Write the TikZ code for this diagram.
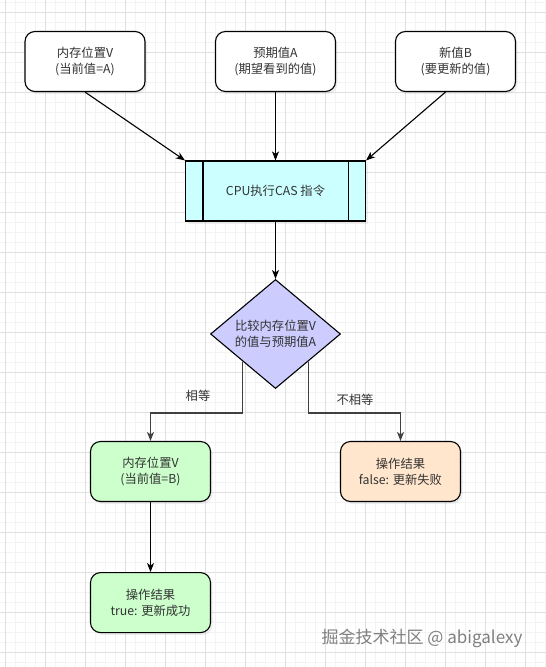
\documentclass[tikz,border=0pt]{standalone}
\usepackage{fontspec}
\setmainfont{Noto Sans CJK SC}
\usepackage{tikz}
\usetikzlibrary{shapes.geometric,arrows.meta,positioning,calc,shadows}
\usepackage{xcolor}
\definecolor{txtgray}{HTML}{333333}
\definecolor{cyanfill}{HTML}{CCFFFF}
\definecolor{violetfill}{HTML}{CCCCFF}
\definecolor{greenfill}{HTML}{CCFFCC}
\definecolor{orangefill}{HTML}{FFE6CC}
\definecolor{gridminor}{HTML}{F3F3F3}
\definecolor{gridmajor}{HTML}{E0E0E0}

\begin{document}
\begin{tikzpicture}[
    x=1pt, y=-1pt,
    box/.style={rectangle, draw=black, fill=white, text=txtgray, align=center, rounded corners=10pt, minimum width=120pt, minimum height=60pt, line width=1.1pt, font=\fontsize{12.3pt}{16.3pt}\selectfont, drop shadow={shadow xshift=2pt, shadow yshift=-2.5pt, opacity=0.12}},
    procbox/.style={box, rounded corners=0pt, fill=cyanfill, minimum width=180pt},
    decision/.style={diamond, draw=black, fill=violetfill, text=txtgray, align=center, inner sep=0pt, minimum width=130pt, minimum height=104pt, line width=1.1pt, font=\fontsize{12.3pt}{16.3pt}\selectfont},
    arrow/.style={-{Stealth[length=9pt, width=7pt, inset=2.5pt]}, line width=1.1pt, draw=black},
    branch/.style={arrow, draw=black!75},
    lbl/.style={text=txtgray, font=\fontsize{12.3pt}{16.3pt}\selectfont}
]
% background grid
\useasboundingbox (0,0) rectangle (546,667);
\fill[white] (0,0) rectangle (546,667);
\foreach \gx in {5,15,...,545} \draw[gridminor, line width=0.5pt] (\gx,0) -- (\gx,667);
\foreach \gy in {2,12,...,662} \draw[gridminor, line width=0.5pt] (0,\gy) -- (546,\gy);
\foreach \gx in {5,45,...,525} \draw[gridmajor, line width=0.8pt] (\gx,0) -- (\gx,667);
\foreach \gy in {12,52,...,652} \draw[gridmajor, line width=0.8pt] (0,\gy) -- (546,\gy);

% inputs
\node[box] (mem) at (85,61.5) {内存位置V\\(当前值=A)};
\node[box] (expect) at (275.5,61.5) {预期值A\\(期望看到的值)};
\node[box] (newval) at (455.5,61.5) {新值B\\(要更新的值)};

% CAS
\node[procbox] (cpu) at (275.5,191) {CPU执行CAS 指令};
\draw[line width=1.1pt] ([xshift=18pt]cpu.north west) -- ([xshift=18pt]cpu.south west);
\draw[line width=1.1pt] ([xshift=-18pt]cpu.north east) -- ([xshift=-18pt]cpu.south east);

\node[decision] (cmp) at (275.5,334) {比较内存位置V\\的值与预期值A};

% outcomes
\node[box, fill=greenfill] (memB) at (150.5,471.5) {内存位置V\\(当前值=B)};
\node[box, fill=orangefill] (fail) at (400.5,471.5) {操作结果\\false: 更新失败};
\node[box, fill=greenfill, below=70pt of memB] (ok) {操作结果\\true: 更新成功};

\draw[arrow] (mem.south) -- (cpu.north west);
\draw[arrow] (expect.south) -- (cpu.north);
\draw[arrow] ([xshift=-10pt]newval.south) -- (cpu.north east);
\draw[arrow] (cpu.south) -- (cmp.north);
\draw[branch] ($(cmp.west)!0.5!(cmp.south)$) |- ([yshift=28pt]memB.north) -- (memB.north);
\draw[branch] ($(cmp.east)!0.5!(cmp.south)$) |- ([yshift=28pt]fail.north) -- (fail.north);
\draw[arrow] (memB.south) -- (ok.north);

\node[lbl] (eqlbl) at (198,396) {相等};
\node[lbl] (nelbl) at (355,400) {不相等};

\node[text=black!50, font=\fontsize{17pt}{20pt}\selectfont] (mark) at (422,638) {掘金技术社区 @ abigalexy};
\end{tikzpicture}
\end{document}
